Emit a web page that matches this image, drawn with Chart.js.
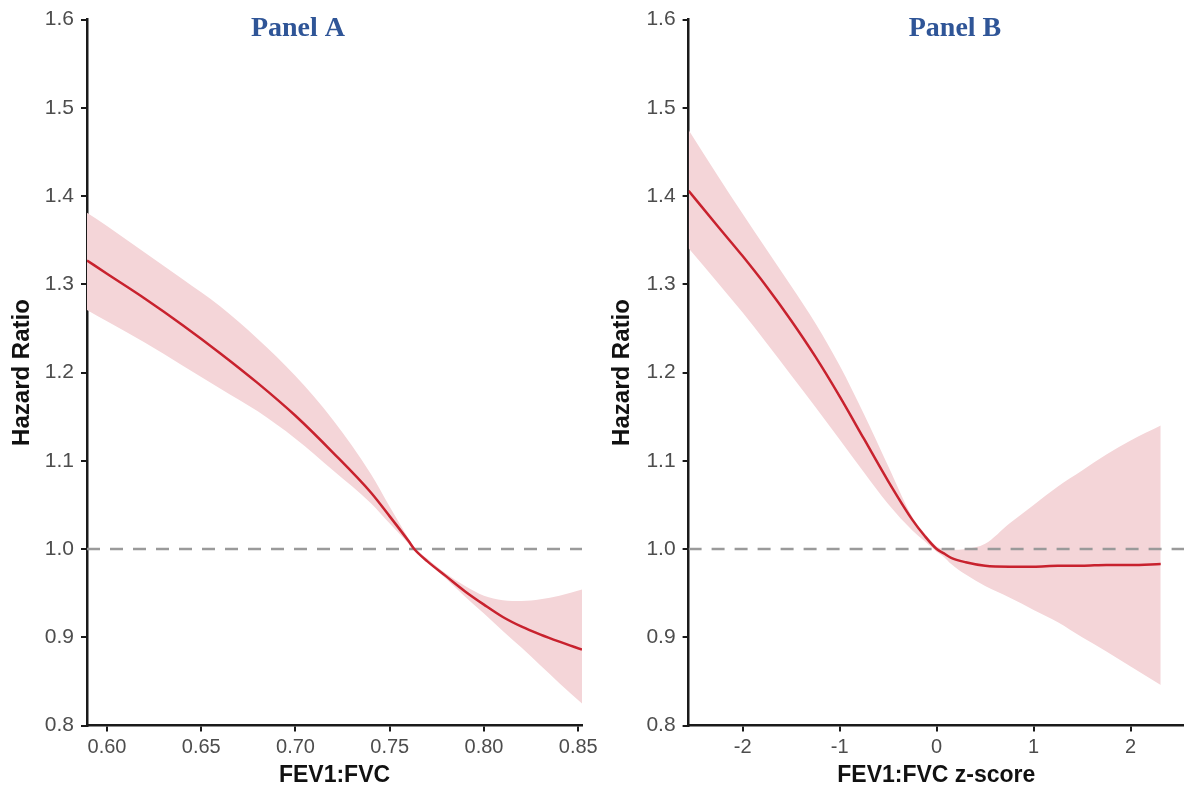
<!DOCTYPE html>
<html>
<head>
<meta charset="utf-8">
<script src="https://cdn.jsdelivr.net/npm/chart.js@4.4.1/dist/chart.umd.min.js"></script>
<style>
    html, body { margin: 0; padding: 0; background: #fff; }
    #wrap { position: relative; width: 1184px; height: 795px; overflow: hidden; }
    #chartA { position: absolute; left: 0; top: 0; }
    #chartB { position: absolute; left: 600px; top: 0; }
</style>
</head>
<body>
<div id="wrap">
    <canvas id="chartA" width="620" height="795"></canvas>
    <canvas id="chartB" width="584" height="795"></canvas>
</div>
<script>
// Panel A: FEV1:FVC
const fevA = [0.5894, 0.60, 0.62, 0.64, 0.66, 0.68, 0.70, 0.72, 0.74, 0.75, 0.76, 0.763, 0.77, 0.78, 0.79, 0.80, 0.81, 0.82, 0.83, 0.84, 0.852];
const hrA  = [1.327, 1.312, 1.284, 1.254, 1.222, 1.188, 1.151, 1.109, 1.064, 1.037, 1.009, 1.000, 0.986, 0.969, 0.952, 0.937, 0.923, 0.912, 0.903, 0.895, 0.886];
const loA  = [1.271, 1.258, 1.234, 1.208, 1.182, 1.156, 1.125, 1.089, 1.052, 1.029, 1.006, 0.998, 0.985, 0.966, 0.946, 0.927, 0.907, 0.888, 0.868, 0.848, 0.825];
const hiA  = [1.381, 1.366, 1.336, 1.306, 1.275, 1.238, 1.196, 1.146, 1.085, 1.048, 1.012, 1.002, 0.989, 0.972, 0.958, 0.947, 0.942, 0.941, 0.943, 0.947, 0.954];

// Panel B: FEV1:FVC z-score
const zB  = [-2.557, -2.25, -2.0, -1.75, -1.5, -1.25, -1.0, -0.75, -0.5, -0.25, -0.125, 0, 0.075, 0.15, 0.3, 0.5, 0.75, 1.0, 1.25, 1.5, 1.75, 2.0, 2.31];
const hrB = [1.406, 1.365, 1.332, 1.297, 1.259, 1.218, 1.173, 1.125, 1.077, 1.033, 1.015, 1.000, 0.995, 0.990, 0.985, 0.981, 0.980, 0.980, 0.981, 0.981, 0.982, 0.982, 0.983];
const loB = [1.341, 1.301, 1.268, 1.233, 1.197, 1.161, 1.124, 1.087, 1.051, 1.021, 1.009, 0.997, 0.991, 0.983, 0.971, 0.958, 0.945, 0.931, 0.917, 0.900, 0.884, 0.867, 0.846];
const hiB = [1.475, 1.422, 1.380, 1.339, 1.298, 1.256, 1.208, 1.153, 1.094, 1.036, 1.018, 1.003, 1.000, 0.999, 1.000, 1.006, 1.029, 1.050, 1.071, 1.089, 1.107, 1.123, 1.140];

const yTicks = [0.8, 0.9, 1.0, 1.1, 1.2, 1.3, 1.4, 1.5, 1.6];
const xTicksA = [0.60, 0.65, 0.70, 0.75, 0.80, 0.85];
const xTicksB = [-2, -1, 0, 1, 2];

const refValue = 1.0;

const lineColor = "#c8222e";
const bandColor = "#f4d5d8";
const axisColor = "#1a1a1a";
const tickColor = "#4d4d4d";

const panelTitle = {
    id: "panelTitle",
    afterDraw(chart, args, opts) {
        const ctx = chart.ctx;
        ctx.save();
        ctx.font = "bold 28px 'Liberation Serif', 'Times New Roman', serif";
        ctx.fillStyle = "#2f5597";
        ctx.textAlign = "center";
        ctx.textBaseline = "middle";
        ctx.fillText(opts.text, opts.x, 29);
        ctx.restore();
    }
};

function pts(xs, ys) {
    return xs.map((x, i) => ({x: x, y: ys[i]}));
}

function makeChart(canvasId, xs, hr, lo, hi, xMin, xMax, xTicks, xTitle, yAxisWidth, padRight, title, titleX, xFmt) {
    const data = {
        datasets: [
            {
                label: "lower",
                data: pts(xs, lo),
                borderWidth: 0,
                pointRadius: 0,
                fill: false,
                order: 3
            },
            {
                label: "upper",
                data: pts(xs, hi),
                borderWidth: 0,
                pointRadius: 0,
                backgroundColor: bandColor,
                fill: "-1",
                order: 2
            },
            {
                label: "reference",
                data: [{x: xMin, y: refValue}, {x: xMax, y: refValue}],
                borderColor: "#9a9a9a",
                borderWidth: 2.5,
                borderDash: [13, 10],
                pointRadius: 0,
                fill: false,
                order: 1
            },
            {
                label: "Hazard Ratio",
                data: pts(xs, hr),
                borderColor: lineColor,
                borderWidth: 2.5,
                pointRadius: 0,
                fill: false,
                order: 0
            }
        ]
    };
    for (const ds of data.datasets) {
        ds.cubicInterpolationMode = "monotone";
    }

    const config = {
        type: "line",
        data: data,
        options: {
            animation: false,
            responsive: false,
            events: [],
            layout: {
                padding: {left: 0, top: 19, right: padRight, bottom: 0}
            },
            plugins: {
                legend: {display: false},
                tooltip: {enabled: false},
                panelTitle: {text: title, x: titleX}
            },
            scales: {
                x: {
                    type: "linear",
                    min: xMin,
                    max: xMax,
                    afterBuildTicks: (s) => { s.ticks = xTicks.map(v => ({value: v})); },
                    afterFit: (s) => { s.height = 69.5; },
                    border: {display: true, color: axisColor, width: 2.5},
                    grid: {drawOnChartArea: false, drawTicks: true, tickLength: 6, color: axisColor, lineWidth: 2},
                    ticks: {
                        color: tickColor,
                        padding: 4,
                        maxRotation: 0,
                        font: {family: "'Liberation Sans', Arial, sans-serif", size: 20},
                        callback: xFmt
                    },
                    title: {
                        display: true,
                        text: xTitle,
                        color: "#111",
                        padding: {top: 0, bottom: 6},
                        font: {family: "'Liberation Sans', Arial, sans-serif", size: 23, weight: "bold"}
                    }
                },
                y: {
                    type: "linear",
                    min: 0.8,
                    max: 1.6,
                    afterBuildTicks: (s) => { s.ticks = yTicks.map(v => ({value: v})); },
                    afterFit: (s) => { s.width = yAxisWidth; },
                    border: {display: true, color: axisColor, width: 2.5},
                    grid: {drawOnChartArea: false, drawTicks: true, tickLength: 6, color: axisColor, lineWidth: 2},
                    ticks: {
                        color: tickColor,
                        padding: 7,
                        font: {family: "'Liberation Sans', Arial, sans-serif", size: 21},
                        callback: (v) => Number(v).toFixed(1)
                    },
                    title: {
                        display: true,
                        text: "Hazard Ratio",
                        color: "#111",
                        padding: {top: 8, bottom: 0},
                        font: {family: "'Liberation Sans', Arial, sans-serif", size: 24, weight: "bold"}
                    }
                }
            }
        },
        plugins: [panelTitle]
    };

    return new Chart(document.getElementById(canvasId).getContext("2d"), config);
}

const chartA = makeChart("chartA", fevA, hrA, loA, hiA, 0.5894, 0.852, xTicksA, "FEV1:FVC",
    87, 38, "Panel A", 298, (v) => Number(v).toFixed(2));
const chartB = makeChart("chartB", zB, hrB, loB, hiB, -2.557, 2.55, xTicksB, "FEV1:FVC z-score",
    88.6, 0, "Panel B", 355, (v) => String(v));
</script>
</body>
</html>
